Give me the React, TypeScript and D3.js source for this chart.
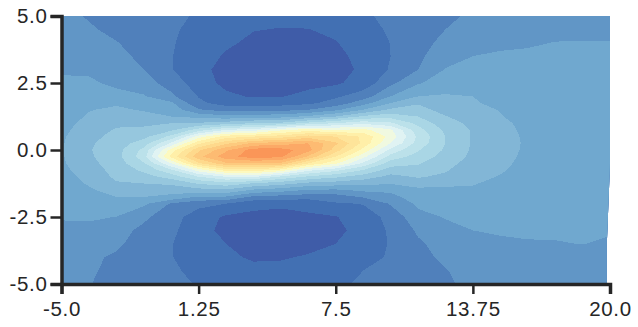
import React, { useEffect, useRef } from "react";
import * as d3 from "d3";

const width = 638;
const height = 327;

const xTicks = [-5, 1.25, 7.5, 13.75, 20];
const yTicks = [-5, -2.5, 0, 2.5, 5];

// sample positions of the grid (denser around the ridge at y = 0)
const xValues = [-5, -3.75, -2.5, -1.25, 0, 1.25, 2.5, 3.75, 5, 6.25, 7.5, 8.75, 10, 11.25, 12.5, 13.75, 15, 16.25, 17.5, 18.75, 20];
const yValues = [5, 4.5, 4, 3.5, 3, 2.5, 2, 1.75, 1.5, 1.25, 1, 0.75, 0.5, 0.25, 0, -0.25, -0.5, -0.75, -1, -1.25, -1.5, -1.75, -2, -2.5, -3, -3.5, -4, -4.5, -5];

// band index, one list per x, top to bottom
const levelColumns = [
  [3.3, 3.45, 3.6, 3.75, 3.93, 4.1, 4.25, 4.35, 4.45, 4.55, 4.65, 4.75, 4.85, 4.9, 4.92, 4.9, 4.85, 4.75, 4.65, 4.55, 4.45, 4.35, 4.25, 4.05, 3.85, 3.65, 3.5, 3.35, 3.2],
  [2.9, 3.15, 3.35, 3.55, 3.85, 4.15, 4.4, 4.7, 4.95, 5.1, 5.3, 5.5, 5.7, 5.85, 5.92, 5.85, 5.7, 5.5, 5.25, 5.1, 4.85, 4.65, 4.45, 4.15, 3.7, 3.4, 3.2, 3.15, 3.05],
  [2.4, 2.7, 3.05, 3.3, 3.55, 3.8, 4.3, 4.85, 5.2, 5.45, 5.8, 6.1, 6.3, 6.5, 6.6, 6.6, 6.5, 6.35, 6.2, 5.9, 5.45, 5.0, 4.65, 3.98, 3.4, 3.2, 2.85, 2.7, 2.6],
  [2.3, 2.4, 2.55, 2.75, 3.0, 3.4, 4.1, 4.4, 4.9, 5.35, 5.8, 6.2, 6.7, 7.5, 8.3, 8.6, 7.9, 7.2, 6.6, 6.0, 5.5, 5.0, 4.2, 3.2, 2.75, 2.5, 2.35, 2.3, 2.3],
  [2.2, 2.12, 2.06, 2.03, 2.05, 2.6, 3.2, 4.2, 4.6, 5.0, 6.0, 6.8, 8.3, 10.2, 12.4, 13.3, 11, 8.8, 7.4, 6.2, 5.3, 4.8, 2.9, 2.4, 2.2, 2.05, 2.05, 2.15, 2.3],
  [1.9, 1.75, 1.7, 1.6, 1.35, 1.45, 1.95, 2.2, 3.1, 4.7, 6.1, 8.5, 11.5, 13.8, 15.8, 16.7, 14.8, 11.5, 9, 7.1, 5.6, 3.9, 2.3, 1.5, 1.4, 1.35, 1.45, 1.75, 1.92],
  [1.65, 1.4, 1.2, 0.85, 0.6, 0.75, 1.2, 1.6, 2.6, 4.3, 6.5, 10, 13.5, 15.8, 17.8, 18.6, 16.8, 13.4, 10, 7.6, 5.8, 3.9, 2.0, 0.85, 0.7, 1.0, 1.15, 1.3, 1.45],
  [1.35, 1.05, 0.75, 0.5, 0.4, 0.45, 0.9, 1.6, 2.6, 4.5, 7, 10.5, 14, 17.2, 19.5, 19.5, 17, 13.6, 10.1, 6.9, 4.8, 2.8, 1.3, 0.75, 0.55, 0.6, 0.9, 1.2, 1.35],
  [1.3, 0.95, 0.65, 0.45, 0.35, 0.4, 0.95, 1.6, 2.7, 4.6, 7.2, 11.8, 14.5, 17.5, 19.5, 19.2, 16.8, 12.6, 8.8, 6.4, 4.4, 2.6, 1.2, 0.65, 0.45, 0.5, 0.95, 1.15, 1.3],
  [1.35, 0.98, 0.68, 0.45, 0.35, 0.75, 1.25, 1.8, 3.0, 5.2, 8.3, 12.5, 15.5, 18.0, 18.4, 16.8, 14, 10.3, 7.8, 5.7, 3.9, 2.4, 1.3, 0.85, 0.65, 0.85, 1.05, 1.25, 1.45],
  [1.55, 1.2, 0.95, 0.75, 0.6, 0.85, 1.85, 2.4, 3.8, 6, 9, 12, 15, 16.2, 15.5, 14, 12.2, 9.3, 7.2, 5.5, 3.8, 2.5, 1.9, 0.95, 0.8, 1.0, 1.25, 1.5, 1.75],
  [1.8, 1.6, 1.45, 1.3, 1.2, 1.4, 2.5, 3.6, 5.0, 7.2, 9.7, 12.3, 13.8, 13.7, 12.7, 11.3, 9.8, 8, 6.5, 5.3, 4.2, 3.1, 2.05, 1.5, 1.3, 1.2, 1.4, 2.0, 2.2],
  [2.3, 2.15, 2.02, 2.0, 2.1, 2.75, 4.0, 5.0, 6.2, 7.6, 9.2, 11.2, 11.6, 11, 9.7, 8.6, 7.5, 6.5, 5.7, 5.05, 4.2, 3.7, 3.1, 2.3, 2.15, 2.1, 2.2, 2.4, 2.6],
  [2.45, 2.5, 2.6, 2.8, 3.0, 3.9, 5.0, 5.9, 6.4, 7, 7.7, 8.4, 8.8, 8.6, 8.1, 7.6, 7.1, 6.6, 6.1, 5.5, 4.7, 4.5, 4.2, 3.7, 3.15, 2.85, 2.7, 2.65, 2.7],
  [2.75, 3.0, 3.3, 3.6, 4.05, 4.5, 5.1, 5.3, 5.6, 6.05, 6.4, 6.8, 7.0, 7.0, 6.85, 6.6, 6.3, 6.1, 5.8, 5.15, 4.85, 4.65, 4.5, 4.05, 3.75, 3.4, 3.2, 2.95, 2.85],
  [3.2, 3.4, 3.6, 4.0, 4.35, 4.6, 5.0, 5.15, 5.35, 5.55, 5.75, 5.9, 5.9, 5.9, 5.85, 5.8, 5.65, 5.4, 5.25, 5.05, 4.9, 4.7, 4.6, 4.35, 4.0, 3.75, 3.55, 3.4, 3.25],
  [3.45, 3.6, 3.85, 4.1, 4.25, 4.4, 4.55, 4.65, 4.95, 5.05, 5.2, 5.3, 5.35, 5.35, 5.35, 5.3, 5.2, 5.1, 4.95, 4.8, 4.65, 4.55, 4.45, 4.3, 4.1, 3.85, 3.7, 3.55, 3.4],
  [3.55, 3.72, 3.92, 4.12, 4.25, 4.35, 4.45, 4.5, 4.55, 4.65, 4.75, 4.8, 4.85, 4.88, 4.85, 4.8, 4.75, 4.68, 4.6, 4.5, 4.45, 4.4, 4.35, 4.25, 4.1, 3.95, 3.78, 3.62, 3.45],
  [3.6, 3.8, 4.02, 4.15, 4.22, 4.28, 4.32, 4.35, 4.38, 4.42, 4.46, 4.5, 4.52, 4.54, 4.54, 4.52, 4.5, 4.46, 4.42, 4.38, 4.34, 4.3, 4.26, 4.18, 4.08, 3.97, 3.8, 3.65, 3.5],
  [3.6, 3.8, 4.03, 4.14, 4.2, 4.25, 4.28, 4.3, 4.32, 4.34, 4.37, 4.4, 4.42, 4.43, 4.43, 4.42, 4.4, 4.37, 4.34, 4.31, 4.28, 4.26, 4.24, 4.18, 4.1, 4.01, 3.82, 3.66, 3.5],
  [3.6, 3.8, 4.04, 4.12, 4.17, 4.2, 4.22, 4.24, 4.26, 4.28, 4.3, 4.32, 4.33, 4.34, 4.34, 4.33, 4.32, 4.3, 4.28, 4.26, 4.24, 4.22, 4.2, 4.14, 4.05, 3.93, 3.78, 3.62, 3.46],
];

// the filled area stops a little short of x = 20 in the lower part
const rightLimitY = [5, -0.5, -3.4, -5];
const rightLimitX = [20, 20, 19.86, 19.86];

const bandColors = [
  "#3f5ca8", "#4270b3", "#5080bb", "#6196c6", "#70a8cf",
  "#82b6d6", "#96c7de", "#a9d6e5", "#bbe1ea", "#cdeaf0",
  "#e0f3f3", "#f0f9e0", "#fdf9bf", "#ffefa8", "#fee49a",
  "#fed98c", "#fdca7e", "#fdbb72", "#fca966", "#fa9658",
];

export default function App() {
  const svgRef = useRef<SVGSVGElement>(null);

  useEffect(() => {
    const svg = d3.select(svgRef.current);
    svg.selectAll("*").remove();

    const x = d3.scaleLinear().domain([-5, 20]).range([61.5, 610]);
    const y = d3.scaleLinear().domain([-5, 5]).range([284, 16]);

    const nx = xValues.length;
    const ny = yValues.length;
    const flat: number[] = [];
    for (let j = 0; j < ny; j++) {
      for (let i = 0; i < nx; i++) flat.push(levelColumns[i][j]);
    }

    // grid units -> pixels; the samples sit at i + 0.5 in d3.contours
    const gridX = d3.scaleLinear()
      .domain(xValues.map((_, i) => i + 0.5))
      .range(xValues.map((v) => x(v)))
      .clamp(true);
    const gridY = d3.scaleLinear()
      .domain(yValues.map((_, i) => i + 0.5))
      .range(yValues.map((v) => y(v)))
      .clamp(true);

    const contours = d3.contours()
      .size([nx, ny])
      .thresholds(bandColors.map((_, i) => i))(flat);

    const path = d3.geoPath(
      d3.geoTransform({
        point(px, py) {
          this.stream.point(gridX(px), gridY(py));
        },
      })
    );

    const clipPoints: [number, number][] = [
      [x(-5), y(5)],
      ...rightLimitY.map((v, i): [number, number] => [x(rightLimitX[i]), y(v)]),
      [x(-5), y(-5)],
    ];
    svg.append("clipPath")
      .attr("id", "plot-area")
      .append("path")
      .attr("d", d3.line()(clipPoints) + "Z");

    svg.append("g")
      .attr("clip-path", "url(#plot-area)")
      .selectAll("path")
      .data(contours)
      .enter()
      .append("path")
      .attr("d", path)
      .attr("fill", (_, i) => bandColors[i])
      .attr("shape-rendering", "crispEdges");

    const styleAxis = (g) => {
      g.selectAll("path").attr("stroke", "#262626").attr("stroke-width", 3.5);
      g.selectAll("line").attr("stroke", "#262626").attr("stroke-width", 2.5);
      g.selectAll("text")
        .attr("fill", "#262626")
        .attr("font-family", "'Liberation Sans', Arial, sans-serif")
        .attr("font-size", 20.5)
        .attr("letter-spacing", 0.7);
    };

    const tickLabel = (d) => (d === 1.25 || d === 13.75 ? String(d) : d.toFixed(1));

    svg.append("g")
      .attr("transform", "translate(0,284)")
      .call(d3.axisBottom(x).tickValues(xTicks).tickSize(10).tickPadding(7).tickFormat(tickLabel))
      .call(styleAxis);

    svg.append("g")
      .attr("transform", "translate(61.5,0)")
      .call(d3.axisLeft(y).tickValues(yTicks).tickSize(11).tickPadding(3).tickFormat(tickLabel))
      .call(styleAxis);
  }, []);

  return (
    <svg
      ref={svgRef}
      width={width}
      height={height}
      style={{ position: "absolute", left: 0, top: 0, background: "#fff" }}
    />
  );
}
